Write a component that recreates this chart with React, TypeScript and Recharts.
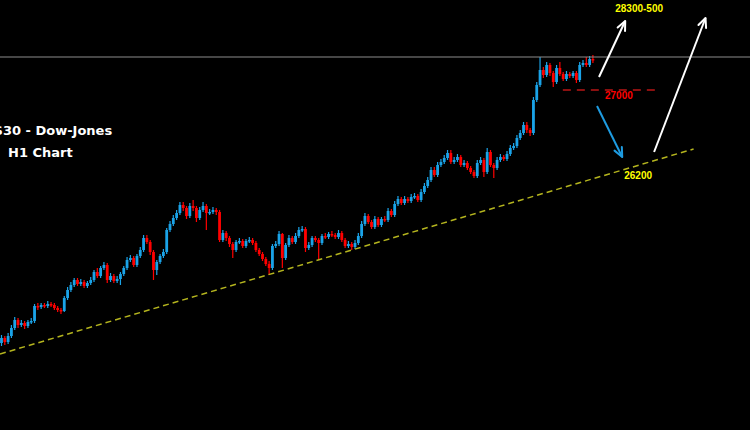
import React from 'react';
import { ComposedChart, Bar, XAxis, YAxis, ReferenceLine, ReferenceDot } from 'recharts';

// US30 H1 candles (open = previous close)
const firstOpen = 24470;

const closes = [
  24520, 24480, 24540, 24620, 24700, 24650, 24670, 24640, 24680, 24690,
  24840, 24830, 24850, 24840, 24860, 24850, 24820, 24800, 24790, 24920,
  25000, 25050, 25100, 25060, 25080, 25040, 25070, 25100, 25180, 25140,
  25220, 25250, 25100, 25140, 25090, 25110, 25160, 25220, 25300, 25320,
  25250, 25340, 25400, 25520, 25480, 25380, 25200, 25280, 25340, 25380,
  25600, 25660, 25720, 25770, 25850, 25820, 25740, 25840, 25820, 25720,
  25800, 25840, 25770, 25780, 25800, 25780, 25500, 25570, 25520, 25460,
  25400, 25480, 25490, 25440, 25490, 25500, 25470, 25400, 25360, 25310,
  25260, 25220, 25440, 25460, 25560, 25320, 25450, 25520, 25480, 25540,
  25600, 25610, 25420, 25450, 25520, 25500, 25470, 25540, 25530, 25560,
  25550, 25530, 25570, 25500, 25440, 25460, 25430, 25470, 25540, 25660,
  25740, 25680, 25630, 25710, 25650, 25710, 25700, 25790, 25750, 25860,
  25910, 25870, 25910, 25890, 25930, 25940, 25900, 25980, 26040, 26100,
  26200, 26150, 26250, 26280, 26320, 26370, 26280, 26300, 26330, 26250,
  26270, 26220, 26180, 26140, 26270, 26300, 26180, 26380, 26250, 26220,
  26300, 26330, 26310, 26360, 26420, 26440, 26520, 26570, 26650, 26600,
  26570, 26900, 27050, 27200, 27150, 27250, 27170, 27080, 27220, 27160,
  27110, 27160, 27140, 27170, 27100, 27250, 27270, 27250, 27310, 27300,
];

const highs = [
  24550, 24540, 24570, 24650, 24730, 24720, 24700, 24690, 24700, 24720,
  24860, 24870, 24870, 24870, 24890, 24880, 24870, 24840, 24820, 24940,
  25030, 25080, 25120, 25120, 25110, 25100, 25090, 25130, 25200, 25220,
  25240, 25280, 25270, 25170, 25160, 25140, 25180, 25240, 25330, 25350,
  25340, 25360, 25430, 25550, 25550, 25500, 25400, 25300, 25360, 25410,
  25620, 25690, 25750, 25800, 25880, 25880, 25840, 25870, 25900, 25840,
  25830, 25880, 25860, 25810, 25830, 25820, 25800, 25600, 25590, 25540,
  25480, 25500, 25520, 25510, 25510, 25530, 25520, 25490, 25420, 25380,
  25330, 25290, 25460, 25490, 25590, 25570, 25470, 25550, 25540, 25570,
  25630, 25640, 25630, 25480, 25540, 25540, 25520, 25560, 25570, 25580,
  25590, 25570, 25600, 25590, 25520, 25490, 25480, 25500, 25570, 25690,
  25770, 25760, 25700, 25740, 25730, 25730, 25740, 25820, 25810, 25890,
  25940, 25930, 25940, 25930, 25960, 25970, 25960, 26010, 26070, 26130,
  26230, 26230, 26280, 26310, 26350, 26400, 26400, 26330, 26360, 26350,
  26300, 26290, 26240, 26200, 26300, 26330, 26320, 26420, 26400, 26270,
  26330, 26360, 26350, 26390, 26450, 26470, 26550, 26600, 26680, 26680,
  26620, 26930, 27080, 27330, 27230, 27280, 27270, 27190, 27250, 27280,
  27180, 27190, 27180, 27190, 27190, 27280, 27300, 27330, 27340, 27350,
];

const lows = [
  24440, 24450, 24460, 24520, 24600, 24620, 24630, 24610, 24620, 24660,
  24670, 24800, 24810, 24820, 24820, 24830, 24800, 24780, 24760, 24780,
  24900, 24980, 25030, 25040, 25040, 25020, 25020, 25050, 25080, 25120,
  25120, 25200, 25070, 25080, 25070, 25070, 25050, 25140, 25200, 25280,
  25230, 25230, 25320, 25380, 25460, 25350, 25100, 25150, 25260, 25320,
  25360, 25580, 25640, 25700, 25750, 25790, 25710, 25720, 25790, 25680,
  25700, 25780, 25600, 25750, 25760, 25750, 25480, 25480, 25490, 25430,
  25320, 25380, 25460, 25420, 25420, 25470, 25450, 25380, 25340, 25290,
  25240, 25150, 25200, 25420, 25440, 25220, 25300, 25430, 25460, 25460,
  25520, 25580, 25380, 25400, 25430, 25480, 25300, 25450, 25510, 25510,
  25530, 25510, 25510, 25480, 25420, 25420, 25400, 25410, 25450, 25520,
  25640, 25660, 25610, 25610, 25630, 25630, 25680, 25680, 25730, 25730,
  25840, 25850, 25850, 25870, 25870, 25910, 25880, 25880, 25960, 26020,
  26080, 26130, 26130, 26230, 26260, 26300, 26260, 26260, 26280, 26230,
  26230, 26200, 26160, 26120, 26120, 26250, 26130, 26160, 26230, 26120,
  26200, 26280, 26290, 26290, 26340, 26400, 26420, 26500, 26550, 26570,
  26540, 26550, 26880, 27030, 27120, 27130, 27140, 27030, 27060, 27140,
  27090, 27090, 27120, 27120, 27070, 27080, 27230, 27230, 27230, 27270,
];

const slotCount = 227; // candles plus empty space on the right
const priceDomain = [23600, 27900];

const resistanceLevel = 27330;
const trendLine = [{ x: 0, y: 24360 }, { x: 209, y: 26410 }];
const breakLine = [{ x: 169.6, y: 27000 }, { x: 198.7, y: 27000 }];
const upArrowNear = [{ x: 180.5, y: 27130 }, { x: 188.4, y: 27690 }];
const upArrowFar = [{ x: 197.1, y: 26380 }, { x: 212.6, y: 27720 }];
const downArrow = [{ x: 179.9, y: 26840 }, { x: 187.5, y: 26330 }];
const labels = [
  { x: 192.6, y: 27820, text: '28300-500', color: '#ffff00' },
  { x: 186.5, y: 26950, text: '27000', color: '#ff0000' },
  { x: 192.3, y: 26150, text: '26200', color: '#ffff00' },
];

const BULL = '#1aa3e8';
const BEAR = '#ff0000';

const chartData = Array.from({ length: slotCount }, (_, i) => {
  if (i >= closes.length) return { i };
  const open = i === 0 ? firstOpen : closes[i - 1];
  return { i, open, close: closes[i], high: highs[i], low: lows[i], range: [lows[i], highs[i]] };
});

const Candle = (props: any) => {
  const { x, y, width, height, payload } = props;
  if (!payload || payload.high == null) return null;
  const top = Math.min(y, y + height);
  const bot = Math.max(y, y + height);
  const span = payload.high - payload.low || 1;
  const py = (v: number) => top + ((payload.high - v) / span) * (bot - top);
  const up = payload.close >= payload.open;
  const color = up ? BULL : BEAR;
  const cx = x + width / 2;
  const bTop = py(Math.max(payload.open, payload.close));
  const bBot = py(Math.min(payload.open, payload.close));
  return (
    <g>
      <rect x={cx - 0.6} y={top} width={1.2} height={bot - top} fill={color} />
      <rect x={cx - 1.4} y={bTop} width={2.8} height={Math.max(1.5, bBot - bTop)} fill={color} />
    </g>
  );
};

const arrowShape = (color: string, w: number) => (p: any) => {
  const { x1, y1, x2, y2 } = p;
  const ang = Math.atan2(y2 - y1, x2 - x1);
  const len = 10;
  const spread = 0.42;
  const ax = x2 - len * Math.cos(ang - spread);
  const ay = y2 - len * Math.sin(ang - spread);
  const bx = x2 - len * Math.cos(ang + spread);
  const by = y2 - len * Math.sin(ang + spread);
  return (
    <g>
      <line x1={x1} y1={y1} x2={x2} y2={y2} stroke={color} strokeWidth={w} />
      <polyline
        points={`${ax},${ay} ${x2},${y2} ${bx},${by}`}
        fill="none"
        stroke={color}
        strokeWidth={w}
        strokeLinejoin="round"
        strokeLinecap="round"
      />
    </g>
  );
};

const textShape = (text: string, color: string) => (p: any) => (
  <text
    x={p.cx}
    y={p.cy}
    textAnchor="middle"
    dominantBaseline="central"
    fill={color}
    fontFamily="'Liberation Sans', Arial, sans-serif"
    fontWeight="bold"
    fontSize={10}
  >
    {text}
  </text>
);

const titleStyle: React.CSSProperties = {
  position: 'absolute',
  color: '#ffffff',
  fontFamily: "'DejaVu Sans', sans-serif",
  fontWeight: 'bold',
  fontSize: 13,
  lineHeight: '16px',
  whiteSpace: 'nowrap',
};

export default function App() {
  return (
    <div style={{ position: 'fixed', left: 0, top: 0, width: 750, height: 430, background: '#000', overflow: 'hidden' }}>
      <ComposedChart
        width={750}
        height={430}
        data={chartData}
        margin={{ top: 0, right: 0, bottom: 0, left: 0 }}
        barCategoryGap={0}
      >
        <XAxis dataKey="i" hide />
        <XAxis xAxisId="n" type="number" domain={[-0.5, slotCount - 0.5]} allowDataOverflow hide />
        <YAxis domain={priceDomain} allowDataOverflow hide />
        <ReferenceLine y={resistanceLevel} stroke="#8c8c8c" strokeWidth={1} />
        <ReferenceLine
          xAxisId="n"
          segment={trendLine}
          ifOverflow="visible"
          stroke="#b4b41e"
          strokeWidth={1.5}
          strokeDasharray="6 4"
        />
        <ReferenceLine
          xAxisId="n"
          segment={breakLine}
          stroke="#8b1010"
          strokeWidth={2}
          strokeDasharray="8 6"
        />
        <Bar dataKey="range" shape={Candle} isAnimationActive={false} />
        <ReferenceLine xAxisId="n" segment={upArrowNear} shape={arrowShape('#ffffff', 2)} />
        <ReferenceLine xAxisId="n" segment={upArrowFar} shape={arrowShape('#ffffff', 2)} />
        <ReferenceLine xAxisId="n" segment={downArrow} shape={arrowShape('#1e9be0', 2)} />
        {labels.map((l) => (
          <ReferenceDot
            key={l.text}
            xAxisId="n"
            x={l.x}
            y={l.y}
            r={0}
            shape={textShape(l.text, l.color)}
          />
        ))}
      </ComposedChart>
      <div style={{ ...titleStyle, left: -17, top: 123 }}>US30 - Dow-Jones</div>
      <div style={{ ...titleStyle, left: 8, top: 145 }}>H1 Chart</div>
    </div>
  );
}
